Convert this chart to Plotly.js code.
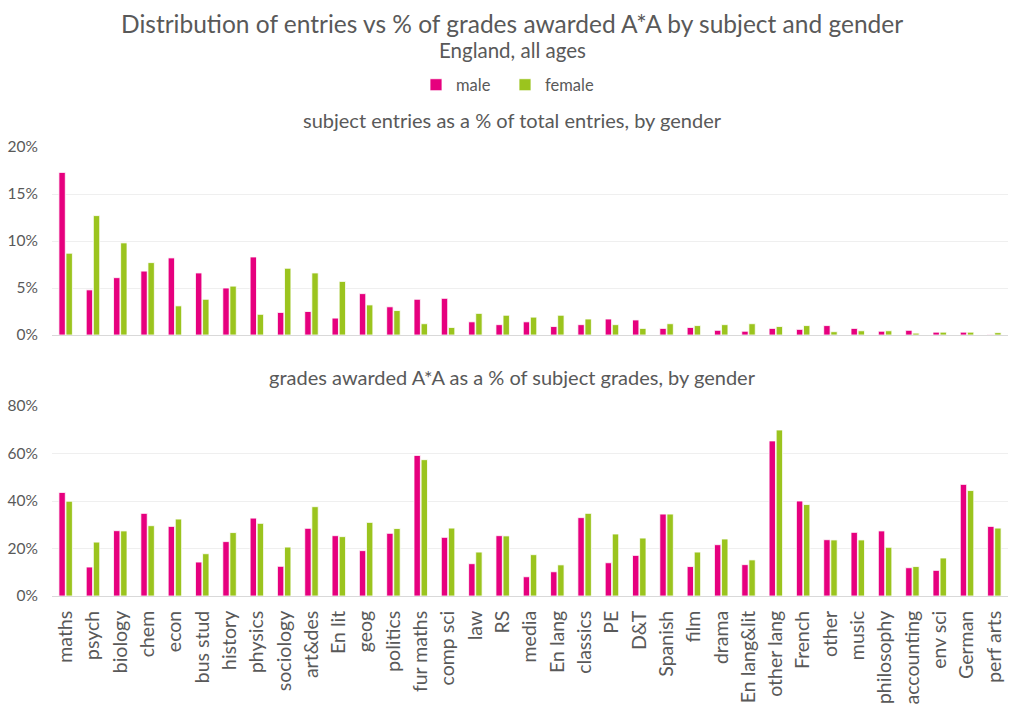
<!DOCTYPE html>
<html>
<head>
<meta charset="utf-8">
<script src="https://cdn.plot.ly/plotly-3.0.1.min.js"></script>
<style>
    html, body { margin: 0; padding: 0; background: #fff; }
    #chart { width: 1024px; height: 715px; }
</style>
</head>
<body>
<div id="chart"></div>
<script>
const subjects = ["maths", "psych", "biology", "chem", "econ", "bus stud", "history", "physics", "sociology",
    "art&des", "En lit", "geog", "politics", "fur maths", "comp sci", "law", "RS", "media", "En lang",
    "classics", "PE", "D&T", "Spanish", "film", "drama", "En lang&lit", "other lang", "French", "other",
    "music", "philosophy", "accounting", "env sci", "German", "perf arts"]

// subject entries as a % of total entries
const entriesMale = [17.3, 4.8, 6.1, 6.8, 8.2, 6.6, 5.0, 8.3, 2.4, 2.5, 1.8, 4.4, 3.0, 3.8, 3.9, 1.4, 1.1,
    1.4, 0.9, 1.1, 1.7, 1.6, 0.7, 0.8, 0.5, 0.4, 0.7, 0.6, 1.0, 0.7, 0.4, 0.5, 0.3, 0.3, 0.05]
const entriesFemale = [8.7, 12.7, 9.8, 7.7, 3.1, 3.8, 5.2, 2.2, 7.1, 6.6, 5.7, 3.2, 2.6, 1.2, 0.8, 2.3, 2.1,
    1.9, 2.1, 1.7, 1.1, 0.7, 1.2, 1.0, 1.1, 1.2, 0.9, 1.0, 0.35, 0.45, 0.45, 0.2, 0.3, 0.3, 0.25]

// grades awarded A*A as a % of subject grades
const gradesMale = [43.6, 12.2, 27.5, 34.8, 29.3, 14.3, 22.9, 32.8, 12.5, 28.5, 25.4, 19.1, 26.4, 59.2, 24.7,
    13.6, 25.4, 8.1, 10.2, 33.0, 14.0, 17.1, 34.5, 12.4, 21.6, 13.2, 65.3, 40.0, 23.7, 26.8, 27.4, 11.9,
    10.8, 47.0, 29.3]
const gradesFemale = [39.9, 22.7, 27.4, 29.6, 32.4, 17.8, 26.7, 30.6, 20.6, 37.6, 25.0, 31.0, 28.4, 57.4, 28.6,
    18.5, 25.3, 17.4, 13.1, 34.8, 26.1, 24.4, 34.5, 18.5, 24.0, 15.2, 69.9, 38.5, 23.6, 23.6, 20.5, 12.4,
    16.0, 44.4, 28.6]

const pink = "#E6007E"
const green = "#9BC41E"
const textColor = "#595959"
const fontFamily = "Lato, 'Open Sans', sans-serif"

function makeBar(name, values, color, axisNum, showLegend) {
    return {
        type: "bar",
        name: name,
        x: subjects,
        y: values,
        xaxis: axisNum === 1 ? "x" : "x2",
        yaxis: axisNum === 1 ? "y" : "y2",
        marker: { color: color, line: { color: "#ffffff", width: 0.8 } },
        showlegend: showLegend,
        legendgroup: name,
        hovertemplate: "%{x}: %{y:.1f}%<extra>" + name + "</extra>"
    }
}

let plotData = [
    makeBar("male", entriesMale, pink, 2, true),
    makeBar("female", entriesFemale, green, 2, true),
    makeBar("male", gradesMale, pink, 1, false),
    makeBar("female", gradesFemale, green, 1, false)
]

// plot area spans x 52..1008, full height used for domains
const H = 715
function dom(topPx, bottomPx) {
    return [(H - bottomPx) / H, (H - topPx) / H]
}
function py(px) {
    return (H - px) / H
}
const cx = (512 - 52) / 956

let yCommon = {
    ticksuffix: "%",
    showline: false,
    gridcolor: "#efefef",
    gridwidth: 1,
    zeroline: false,
    tickfont: { size: 15.5, color: textColor },
    ticklabelstandoff: 13,
    fixedrange: true
}

let xCommon = {
    type: "category",
    showline: true,
    linecolor: "#d9d9d9",
    linewidth: 1,
    showgrid: false,
    ticks: "",
    fixedrange: true
}

let plotLayout = {
    width: 1024,
    height: 715,
    margin: { l: 52, r: 16, t: 0, b: 0, autoexpand: false },
    paper_bgcolor: "#ffffff",
    plot_bgcolor: "#ffffff",
    font: { family: fontFamily, color: textColor },
    barmode: "group",
    bargap: 0.48,
    bargroupgap: 0.1,
    showlegend: true,
    legend: {
        orientation: "h",
        x: (505 - 52) / 956,
        xanchor: "center",
        y: py(85),
        yanchor: "middle",
        font: { size: 16.5, color: textColor },
        itemwidth: 30,
        entrywidth: 44,
        traceorder: "normal"
    },
    xaxis: Object.assign({}, xCommon, {
        anchor: "y",
        tickangle: -90,
        tickfont: { size: 19.5, color: textColor },
        ticklabelstandoff: 6,
        automargin: false
    }),
    xaxis2: Object.assign({}, xCommon, {
        anchor: "y2",
        showticklabels: false,
        matches: "x"
    }),
    yaxis: Object.assign({}, yCommon, {
        domain: dom(406, 596),
        range: [0, 80],
        dtick: 20
    }),
    yaxis2: Object.assign({}, yCommon, {
        domain: dom(147, 335),
        range: [0, 20],
        dtick: 5
    }),
    annotations: [
        {
            text: "Distribution of entries vs % of grades awarded A*A by subject and gender",
            xref: "paper", yref: "paper", x: cx, y: py(24),
            xanchor: "center", yanchor: "middle", showarrow: false,
            font: { size: 24.5, color: textColor }
        },
        {
            text: "England, all ages",
            xref: "paper", yref: "paper", x: cx, y: py(50),
            xanchor: "center", yanchor: "middle", showarrow: false,
            font: { size: 20.5, color: textColor }
        },
        {
            text: "subject entries as a % of total entries, by gender",
            xref: "paper", yref: "paper", x: cx, y: py(120),
            xanchor: "center", yanchor: "middle", showarrow: false,
            font: { size: 20, color: textColor }
        },
        {
            text: "grades awarded A*A as a % of subject grades, by gender",
            xref: "paper", yref: "paper", x: cx, y: py(377),
            xanchor: "center", yanchor: "middle", showarrow: false,
            font: { size: 20, color: textColor }
        }
    ]
}

let plotConfig = { displayModeBar: false }

Plotly.newPlot("chart", plotData, plotLayout, plotConfig)
</script>
</body>
</html>
